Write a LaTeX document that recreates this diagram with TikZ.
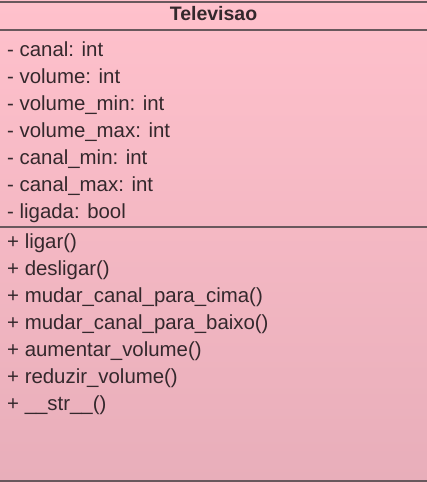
\documentclass[tikz,border=0pt]{standalone}
\usepackage{fontspec}
\setmainfont{Liberation Sans}
\usepackage{tikz}
\usetikzlibrary{positioning}
\usepackage{xcolor}
\definecolor{umlpink}{RGB}{255,193,204}
\definecolor{umlpinkdark}{RGB}{232,174,186}
\definecolor{umlline}{RGB}{105,88,93}
\definecolor{umltext}{RGB}{52,40,44}
\tikzset{
  member/.style={anchor=base west, inner sep=0pt, text=umltext, font=\fontsize{20.4}{24}\selectfont},
  title/.style={anchor=base, inner sep=0pt, text=umltext, font=\fontsize{19.5}{24}\selectfont\bfseries},
  sep/.style={umlline, line width=2pt}
}

\begin{document}
\begin{tikzpicture}[x=1pt, y=1pt]
				\useasboundingbox (0, 0) rectangle (427, -482);
				\shade[top color=umlpink, bottom color=umlpinkdark] (0, 0) rectangle (427, -482);
				\draw[sep] (-8, -1.5) rectangle (435, -481);
				% class name
				\node[title] (name) at (213.5, -20.5) {Televisao};
				\coordinate (sepAL) at (-8, -29.5);
				\coordinate (sepAR) at (435, -29.5);
				\draw[sep] (sepAL)--(sepAR);
				% attributes
				\node[member] (canal) at (7, -56) {- canal: int};
				\node[member] (volume) at (7, -83) {- volume: int};
				\node[member] (volumemin) at (7, -110) {- volume\_min: int};
				\node[member] (volumemax) at (7, -137) {- volume\_max: int};
				\node[member] (canalmin) at (7, -164) {- canal\_min: int};
				\node[member] (canalmax) at (7, -191) {- canal\_max: int};
				\node[member] (ligada) at (7, -218) {- ligada: bool};
				\coordinate (sepML) at (-8, -227);
				\coordinate (sepMR) at (435, -227);
				\draw[sep] (sepML)--(sepMR);
				% methods
				\node[member] (ligar) at (7, -248) {+ ligar()};
				\node[member] (desligar) at (7, -275) {+ desligar()};
				\node[member] (cima) at (7, -302) {+ mudar\_canal\_para\_cima()};
				\node[member] (baixo) at (7, -329) {+ mudar\_canal\_para\_baixo()};
				\node[member] (aumentar) at (7, -356) {+ aumentar\_volume()};
				\node[member] (reduzir) at (7, -383) {+ reduzir\_volume()};
				\node[member] (str) at (7, -410) {+ \_\_str\_\_()};
			\end{tikzpicture}
\end{document}
